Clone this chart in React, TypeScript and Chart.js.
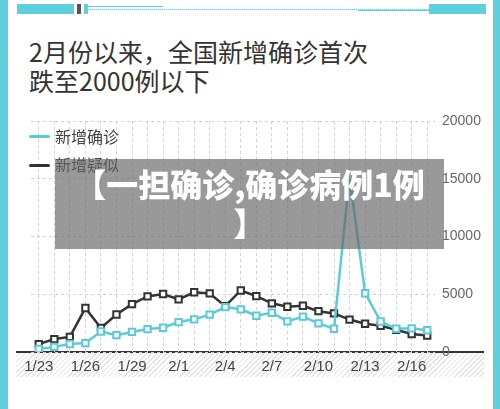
import React, { useEffect, useRef } from 'react';
import { Chart, registerables } from 'chart.js';

Chart.register(...registerables);

const dates = [
  '1/23', '1/24', '1/25', '1/26', '1/27', '1/28', '1/29', '1/30', '1/31',
  '2/1', '2/2', '2/3', '2/4', '2/5', '2/6', '2/7', '2/8', '2/9', '2/10',
  '2/11', '2/12', '2/13', '2/14', '2/15', '2/16', '2/17',
];
const xTickLabels = ['1/23', '1/26', '1/29', '2/1', '2/4', '2/7', '2/10', '2/13', '2/16'];
const confirmed = [
  259, 444, 688, 769, 1771, 1459, 1737, 1982, 2102, 2590, 2829, 3235, 3887,
  3694, 3143, 3399, 2656, 3062, 2478, 2015, 15152, 5090, 2641, 2009, 2048, 1886,
];
const suspected = [
  680, 1118, 1309, 3806, 2077, 3248, 4148, 4812, 5019, 4562, 5173, 5072, 3971,
  5328, 4833, 4214, 3916, 4008, 3536, 3342, 2807, 2450, 2277, 1918, 1563, 1432,
];
const yMin = 0;
const yMax = 20000;
const yStep = 5000;

const seriesNames = ['新增确诊', '新增疑似'];
const titleLines = ['2月份以来，全国新增确诊首次', '跌至2000例以下'];
const bannerLines = ['【一担确诊,确诊病例1例', '】'];

const CYAN = '#5ccbd9';
const DARK = '#333333';
const FRAME = '#5ecfdc';
const CJK = '"Noto Sans CJK SC", "Noto Sans", sans-serif';
const LATIN = '"Liberation Sans", Arial, sans-serif';

export default function App() {
  const canvasRef = useRef<HTMLCanvasElement | null>(null);

  useEffect(() => {
    const canvas = canvasRef.current;
    if (!canvas) return;
    const chart = new Chart(canvas, {
      type: 'line',
      data: {
        labels: dates,
        datasets: [
          {
            label: seriesNames[0],
            data: confirmed,
            borderColor: CYAN,
            backgroundColor: '#ffffff',
            borderWidth: 2.5,
            pointStyle: 'rect',
            pointRadius: 4.5,
            pointBorderWidth: 2,
            pointBackgroundColor: '#ffffff',
            pointBorderColor: CYAN,
            tension: 0,
          },
          {
            label: seriesNames[1],
            data: suspected,
            borderColor: DARK,
            backgroundColor: '#ffffff',
            borderWidth: 2.5,
            pointStyle: 'rect',
            pointRadius: 4.5,
            pointBorderWidth: 2,
            pointBackgroundColor: '#ffffff',
            pointBorderColor: DARK,
            tension: 0,
          },
        ],
      },
      options: {
        responsive: false,
        animation: false,
        devicePixelRatio: 1,
        layout: { padding: { left: 31, top: 21, right: 0, bottom: 0 } },
        plugins: {
          legend: { display: false },
          tooltip: { enabled: false },
          title: { display: false },
        },
        scales: {
          x: {
            type: 'category',
            offset: true,
            afterFit: (scale: any) => {
              scale.height = 38;
            },
            grid: {
              display: true,
              offset: false,
              drawTicks: false,
              color: '#d2d2d2',
              lineWidth: 1,
            },
            border: { display: false, dash: [3, 3] },
            ticks: {
              autoSkip: false,
              maxRotation: 0,
              minRotation: 0,
              padding: 6,
              color: '#444444',
              font: { family: LATIN, size: 15 },
              callback: function (this: any, _v: any, i: number) {
                const l = dates[i];
                return xTickLabels.includes(l) ? l : '';
              },
            },
          },
          y: {
            position: 'right',
            min: yMin,
            max: yMax,
            afterFit: (scale: any) => {
              scale.width = 65;
            },
            grid: {
              display: true,
              drawTicks: false,
              color: '#d2d2d2',
              lineWidth: 1,
            },
            border: { display: false, dash: [3, 3] },
            ticks: {
              stepSize: yStep,
              padding: 7,
              color: '#666666',
              font: { family: LATIN, size: 14 },
              callback: (v: any) => String(v),
            },
          },
        },
      },
    });
    return () => chart.destroy();
  }, []);

  const abs = (s: React.CSSProperties): React.CSSProperties => ({ position: 'absolute', ...s });

  return (
    <div
      style={{
        position: 'fixed',
        left: 0,
        top: 0,
        width: 500,
        height: 409,
        background: '#ffffff',
        overflow: 'hidden',
      }}
    >
      {/* frame */}
      <div style={abs({ left: 0, top: 0, width: 8, height: 409, background: FRAME })} />
      <div style={abs({ left: 493, top: 0, width: 7, height: 409, background: FRAME })} />
      <div style={abs({ left: 17, top: 4, width: 57, height: 10, background: FRAME })} />
      <div style={abs({ left: 77, top: 4, width: 4, height: 10, background: '#555' })} />
      <div style={abs({ left: 84, top: 4, width: 4, height: 10, background: FRAME })} />
      <div style={abs({ left: 88, top: 6, width: 75, height: 1, background: FRAME })} />
      <div
        style={abs({
          left: 88,
          top: 9,
          width: 341,
          height: 1,
          backgroundImage: `repeating-linear-gradient(90deg, ${FRAME} 0 1px, transparent 1px 2px)`,
        })}
      />
      <div style={abs({ left: 358, top: 10, width: 71, height: 1, background: FRAME })} />
      <div style={abs({ left: 429, top: 4, width: 57, height: 10, background: FRAME })} />

      {/* title */}
      <div
        style={abs({
          left: 29,
          top: 37,
          fontFamily: CJK,
          fontSize: 25,
          lineHeight: '29px',
          color: '#333333',
          whiteSpace: 'nowrap',
        })}
      >
        {titleLines.map((t, i) => (
          <div key={i}>{t}</div>
        ))}
      </div>

      {/* axis band */}
      <div
        style={abs({
          left: 16,
          top: 351,
          width: 468,
          height: 24,
          borderTop: '2.5px solid #333',
          backgroundImage:
            'repeating-linear-gradient(-45deg, #ffffff 0 2.5px, #e4e4e4 2.5px 3.6px)',
        })}
      />

      {/* chart */}
      <div style={abs({ left: 0, top: 100, width: 500, height: 290 })}>
        <canvas ref={canvasRef} width={500} height={290} style={{ width: 500, height: 290, display: 'block' }} />
      </div>

      {/* legend */}
      {seriesNames.map((n, i) => (
        <div key={n}>
          <div
            style={abs({
              left: 29,
              top: (i === 0 ? 136.7 : 165) - 1.5,
              width: 21,
              height: 3,
              borderRadius: 2,
              background: i === 0 ? CYAN : DARK,
            })}
          />
          <div
            style={abs({
              left: 55,
              top: (i === 0 ? 136.7 : 165) - 11,
              fontFamily: CJK,
              fontSize: 16,
              lineHeight: '20px',
              color: '#444444',
              whiteSpace: 'nowrap',
            })}
          >
            {n}
          </div>
        </div>
      ))}

      {/* banner */}
      <div
        style={abs({
          left: 55,
          top: 159,
          width: 389,
          height: 90,
          background: 'rgba(100,100,100,0.66)',
          boxSizing: 'border-box',
          paddingTop: 5,
          textAlign: 'center',
          fontFamily: CJK,
          fontWeight: 900,
          fontSize: 32,
          lineHeight: '39px',
          color: '#ffffff',
          whiteSpace: 'nowrap',
        })}
      >
        {bannerLines.map((t, i) => (
          <div key={i}>{t}</div>
        ))}
      </div>
    </div>
  );
}
